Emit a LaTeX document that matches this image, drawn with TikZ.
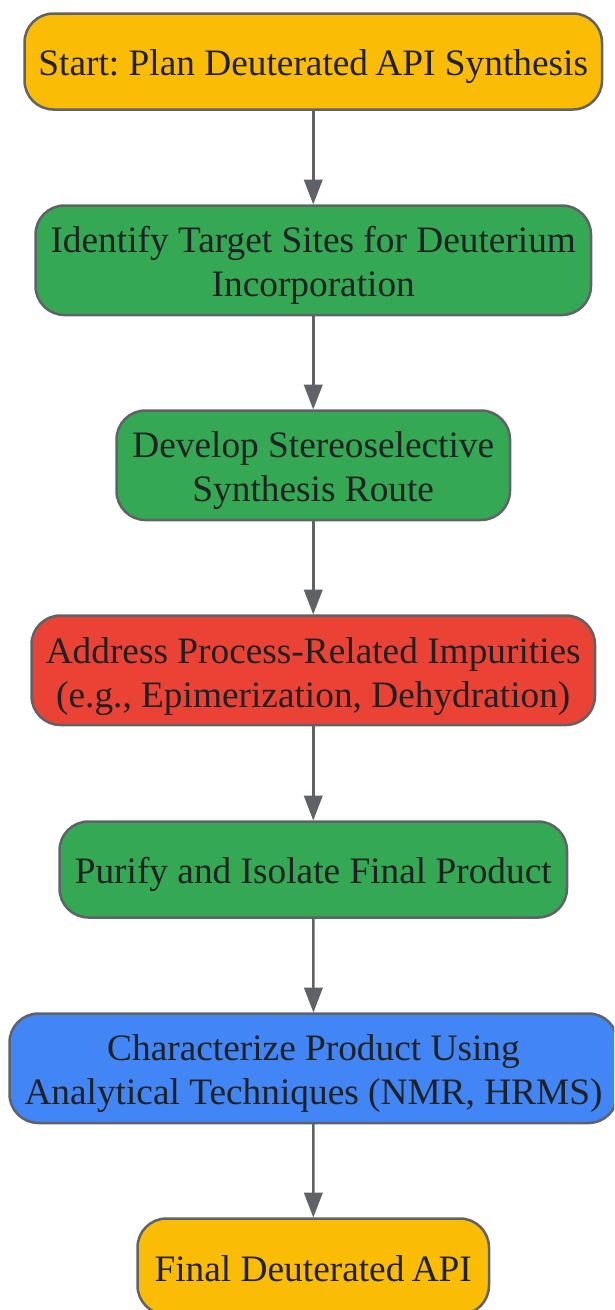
\documentclass[tikz,border=0pt]{standalone}
\usepackage{fontspec}
\setmainfont{Liberation Serif}
\frenchspacing
\usetikzlibrary{arrows.meta}
\definecolor{cy}{HTML}{FBBC05}
\definecolor{cg}{HTML}{34A853}
\definecolor{cr}{HTML}{EA4335}
\definecolor{cb}{HTML}{4285F4}
\definecolor{edge}{HTML}{5F6368}
\definecolor{txt}{HTML}{202124}
\tikzset{
 boxn/.style={draw=edge,line width=2.5pt,rounded corners=29pt,inner sep=0pt,outer sep=0pt,anchor=north west,text=txt,align=center,font=\fontsize{37.33}{44}\selectfont,execute at begin node={\rule[-8pt]{0pt}{45pt}}},
 tworow/.style={execute at begin node={\rule{0pt}{80pt}}},
 tworowlow/.style={execute at begin node={\rule{0pt}{82pt}}},
 conn/.style={draw=edge,line width=2.5pt,shorten >=1pt,-{Triangle[length=25pt,width=18.5pt,fill=edge]}}}
\begin{document}
\begin{tikzpicture}[x=1pt,y=-1pt]
\useasboundingbox (0,0) rectangle (614,1310);
\clip (0,0) rectangle (614,1310);
\node[boxn,fill=cy,minimum width=577.5pt,minimum height=96pt] (a) at (24.5,13.5) {Start: Plan Deuterated\kern-2pt{} API Synthesis};
\node[boxn,tworow,fill=cg,minimum width=555.5pt,minimum height=109.5pt] (b) at (35.5,205.5) {Identify Target Sites for Deuterium\\Incorporation};
\node[boxn,tworow,fill=cg,minimum width=393.5pt,minimum height=109.5pt] (c) at (116.5,410.5) {Develop Stereoselective\\Synthesis Route};
\node[boxn,tworowlow,fill=cr,minimum width=563.5pt,minimum height=109.5pt] (d) at (31.5,615.5) {Address Process-Related Impurities\\(e.g., Epimerization, Dehydration)};
\node[boxn,fill=cg,minimum width=507.5pt,minimum height=96pt] (e) at (59.5,821.5) {Purify and Isolate Final Product};
\node[boxn,tworow,fill=cb,minimum width=608pt,minimum height=109.5pt] (f) at (9.5,1013.5) {Characterize Product Using\\Analytical Techniques (NMR, HRMS)};
\node[boxn,fill=cy,minimum width=351.5pt,minimum height=96pt] (g) at (137.5,1218.5) {Final Deuterated\kern-2pt{} API};
\draw[conn] (a) -- (b);
\draw[conn] (b) -- (c);
\draw[conn] (c) -- (d);
\draw[conn] (d) -- (e);
\draw[conn] (e) -- (f);
\draw[conn] (f) -- (g);
\end{tikzpicture}
\end{document}
